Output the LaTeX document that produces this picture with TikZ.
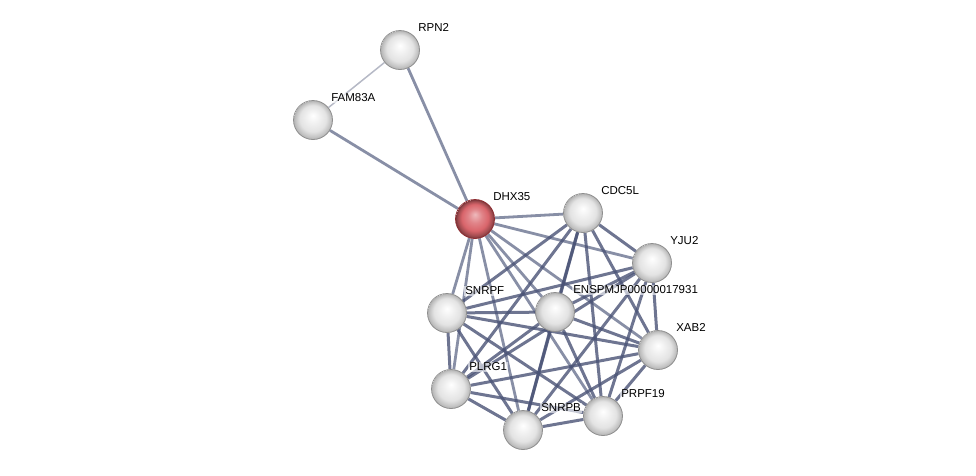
\documentclass[tikz,border=0pt]{standalone}
\usepackage{fontspec}
\setmainfont{Liberation Sans}
\usetikzlibrary{shapes,positioning,backgrounds}
\definecolor{edgeblue}{HTML}{4A5376}
\definecolor{edgelight}{HTML}{737B97}
\definecolor{edgegrey}{HTML}{B6B9C6}
\definecolor{rim}{HTML}{8E8E8E}
\definecolor{redrim}{HTML}{8E2C31}
\definecolor{redbody}{HTML}{D9656B}
\pgfdeclareradialshading{greysphere}{\pgfpoint{0bp}{6bp}}{color(0bp)=(white); color(9bp)=(gray!12); color(17bp)=(gray!22); color(22bp)=(gray!45); color(25bp)=(gray!60)}
\pgfdeclareradialshading{redsphere}{\pgfpoint{0bp}{6bp}}{color(0bp)=(redbody!45!white); color(9bp)=(redbody!80!white); color(17bp)=(redbody); color(22bp)=(redbody!75!black); color(25bp)=(redbody!55!black)}
\tikzstyle{protein} = [circle, minimum size=39pt, inner sep=0pt, draw=rim, line width=0.8pt, shading=greysphere]
\tikzstyle{query} = [protein, draw=redrim, shading=redsphere]
\tikzstyle{genename} = [font=\fontsize{11.5}{13}\selectfont, inner sep=1pt, text depth=0pt, fill=white, fill opacity=0.6, text opacity=1]
\tikzstyle{link} = [edgeblue, line width=3pt, opacity=0.8]
\tikzstyle{weak} = [edgelight, line width=2.8pt, opacity=0.85]
\tikzstyle{faint} = [edgegrey, line width=1.5pt]

\begin{document}
\begin{tikzpicture}[x=1pt,y=-1pt]
	\useasboundingbox (0,0) rectangle (976,475);

	% put the proteins where we want them
	\node [protein] (rpn2) at (400,50) {};
	\node [protein] (fam83a) at (313,120) {};
	\node [query] (dhx35) at (475,219) {};
	\node [protein] (cdc5l) at (583,213) {};
	\node [protein] (yju2) at (652,263) {};
	\node [protein] (snrpf) at (447,313) {};
	\node [protein] (ensp) at (555,312) {};
	\node [protein] (xab2) at (658,350) {};
	\node [protein] (plrg1) at (451,389) {};
	\node [protein] (prpf19) at (603,416) {};
	\node [protein] (snrpb) at (523,430) {};

	% the names
	\node [genename,above right=3pt and 3pt of rpn2] (l-rpn2) {RPN2};
	\node [genename,above right=3pt and 3pt of fam83a] (l-fam83a) {FAM83A};
	\node [genename,above right=3pt and 3pt of dhx35] (l-dhx35) {DHX35};
	\node [genename,above right=3pt and 3pt of cdc5l] (l-cdc5l) {CDC5L};
	\node [genename,above right=3pt and 3pt of yju2] (l-yju2) {YJU2};
	\node [genename,above right=3pt and 3pt of snrpf] (l-snrpf) {SNRPF};
	\node [genename,above right=3pt and 3pt of ensp] (l-ensp) {ENSPMJP00000017931};
	\node [genename,above right=3pt and 3pt of xab2] (l-xab2) {XAB2};
	\node [genename,above right=3pt and 3pt of plrg1] (l-plrg1) {PLRG1};
	\node [genename,above right=3pt and 3pt of prpf19] (l-prpf19) {PRPF19};
	\node [genename,above right=3pt and 3pt of snrpb] (l-snrpb) {SNRPB};

	\begin{pgfonlayer}{background}
	% the top triangle
	\draw [faint] (rpn2) -- (fam83a);
	\draw [weak] (rpn2) -- (dhx35);
	\draw [weak] (fam83a) -- (dhx35);

	% dhx35 to the cluster
	\foreach \b in {cdc5l,yju2,snrpf,ensp,xab2,plrg1,prpf19,snrpb}
		\draw [weak] (dhx35) -- (\b);

	% the cluster, every pair
	\foreach [count=\i] \a in {cdc5l,yju2,snrpf,ensp,xab2,plrg1,prpf19,snrpb}
		\foreach [count=\j] \b in {cdc5l,yju2,snrpf,ensp,xab2,plrg1,prpf19,snrpb}
			{\ifnum\j>\i \draw [link] (\a) -- (\b); \fi}
	\end{pgfonlayer}

\end{tikzpicture}
\end{document}
